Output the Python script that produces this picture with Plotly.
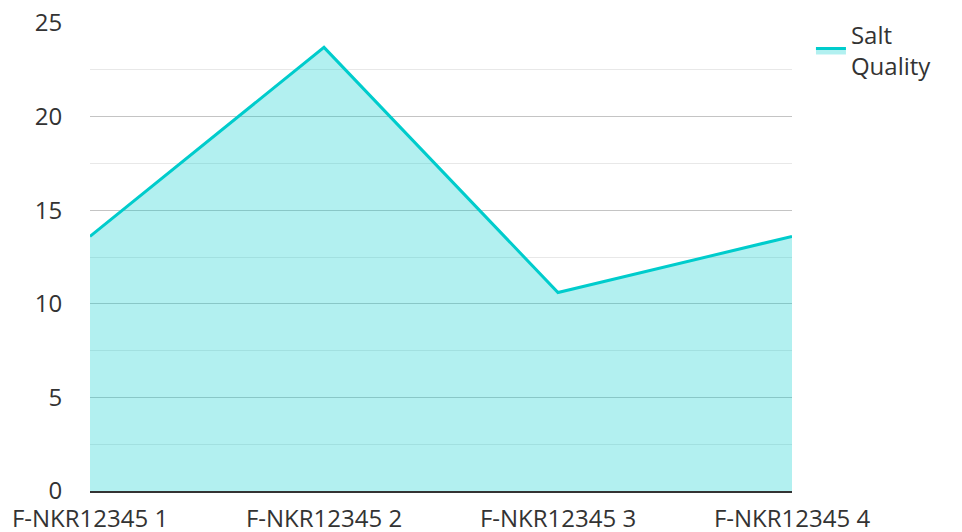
import plotly.graph_objects as go

categories = ["F-NKR12345 1", "F-NKR12345 2", "F-NKR12345 3", "F-NKR12345 4"]
salt_quality = [13.6, 23.7, 10.6, 13.6]
y_ticks = [0, 5, 10, 15, 20, 25]
series_name = "Salt<br>Quality"

fig = go.Figure()
fig.add_trace(go.Scatter(
    x=categories, y=salt_quality, name=series_name,
    mode="lines", fill="tozeroy",
    line=dict(color="#00cccc", width=3),
    fillcolor="rgba(0,204,204,0.3)",
))

fig.update_layout(
    width=962, height=532,
    margin=dict(l=82, r=178, t=15, b=49, autoexpand=False),
    paper_bgcolor="white", plot_bgcolor="white",
    font=dict(family="Open Sans", size=24, color="#333333"),
    showlegend=True,
    legend=dict(x=1.027, y=1.022, xanchor="left", yanchor="top",
                font=dict(size=24, color="#333333")),
    xaxis=dict(range=[0, 3], showgrid=False, showline=True, linecolor="#333333",
               linewidth=2, ticks="outside", ticklen=5, tickcolor="rgba(0,0,0,0)",
               zeroline=False, automargin=False, ticklabeloverflow="allow"),
    yaxis=dict(range=[0, 25], tickmode="array", tickvals=y_ticks,
               showgrid=True, gridcolor="#c4c4c4", gridwidth=1,
               zeroline=False, ticks="outside", ticklen=22, tickcolor="rgba(0,0,0,0)",
               automargin=False, ticklabeloverflow="allow",
               minor=dict(tickmode="linear", tick0=0, dtick=2.5, showgrid=True,
                          gridcolor="#e8e8e8", gridwidth=1)),
)

fig.write_html("out.html")
